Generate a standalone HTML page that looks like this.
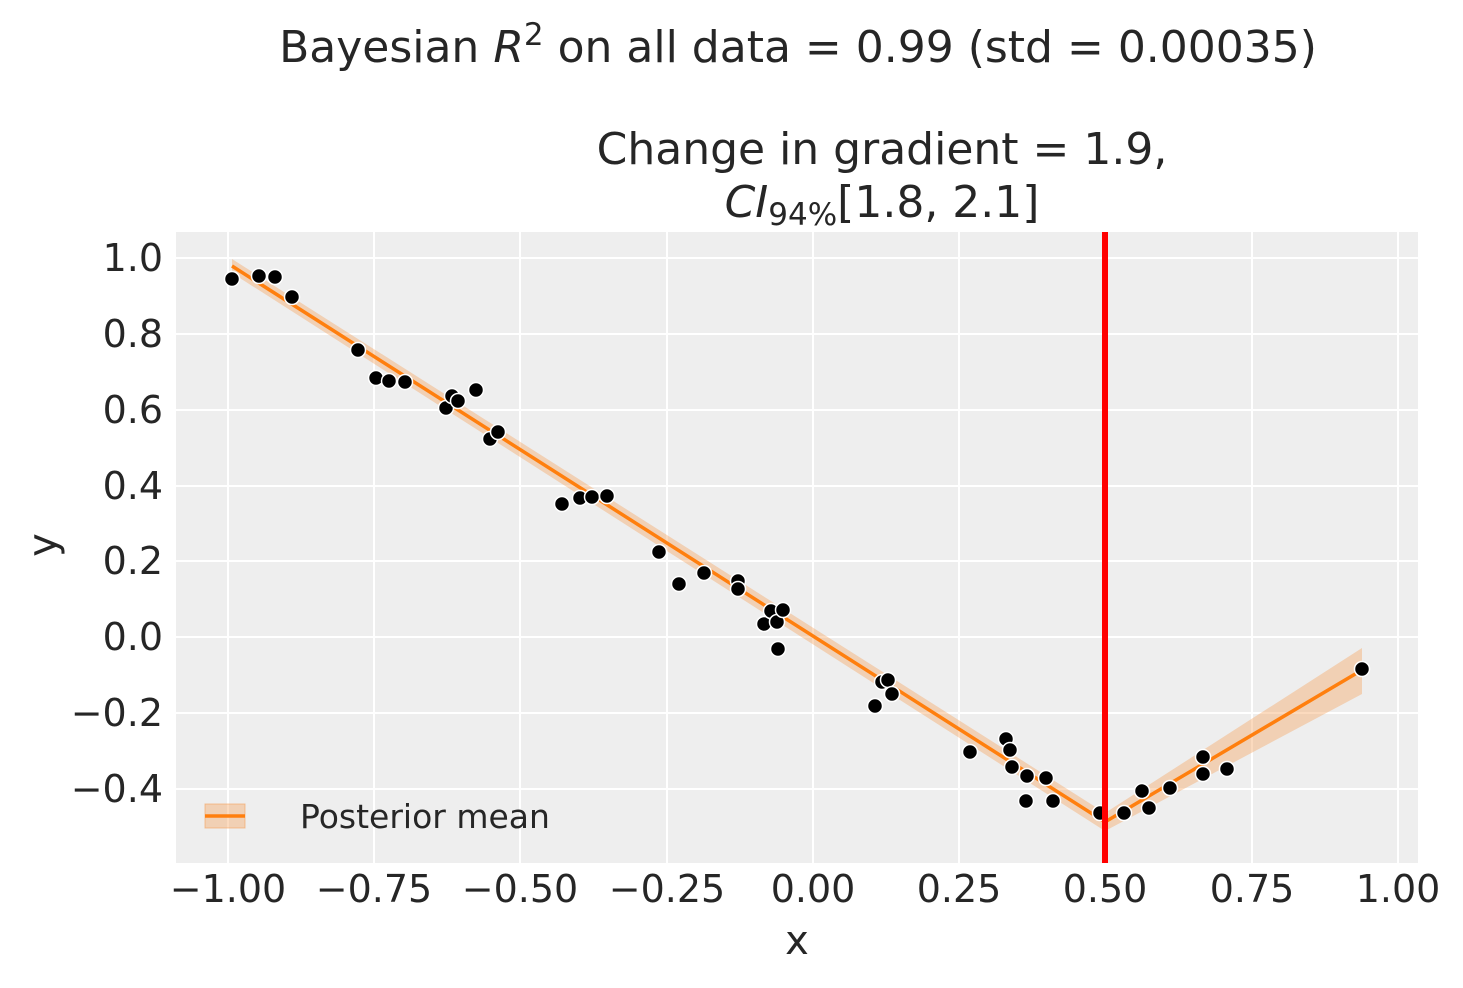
<!DOCTYPE html>
<html><head><meta charset="utf-8"><style>
body{margin:0;background:#fff;}
svg text{font-family:"DejaVu Sans","Liberation Sans",sans-serif;fill:#262626;}
</style></head><body>
<svg width="1463" height="983" xmlns="http://www.w3.org/2000/svg">
<rect x="176" y="232" width="1242" height="631" fill="#eeeeee"/>
<g stroke="#fff" stroke-width="2">
<line x1="228" y1="232" x2="228" y2="863"/><line x1="374" y1="232" x2="374" y2="863"/>
<line x1="520" y1="232" x2="520" y2="863"/><line x1="667" y1="232" x2="667" y2="863"/>
<line x1="813" y1="232" x2="813" y2="863"/><line x1="959" y1="232" x2="959" y2="863"/>
<line x1="1105" y1="232" x2="1105" y2="863"/><line x1="1252" y1="232" x2="1252" y2="863"/>
<line x1="1398" y1="232" x2="1398" y2="863"/>
<line x1="176" y1="258" x2="1418" y2="258"/><line x1="176" y1="334" x2="1418" y2="334"/>
<line x1="176" y1="410" x2="1418" y2="410"/><line x1="176" y1="486" x2="1418" y2="486"/>
<line x1="176" y1="561" x2="1418" y2="561"/><line x1="176" y1="637" x2="1418" y2="637"/>
<line x1="176" y1="713" x2="1418" y2="713"/><line x1="176" y1="789" x2="1418" y2="789"/>
</g>
<polygon points="232,259 1105,813 1362,648 1362,694 1105,831 232,273" fill="#f5a25d" fill-opacity="0.4"/>
<polyline points="232,266 1105,822 1362,670" fill="none" stroke="#ff7f0e" stroke-width="3.5"/>
<g fill="#000" stroke="#fff" stroke-width="1.5">
<circle cx="232" cy="279" r="7.5"/><circle cx="259" cy="276" r="7.5"/><circle cx="275" cy="277" r="7.5"/><circle cx="292" cy="297" r="7.5"/><circle cx="358" cy="350" r="7.5"/><circle cx="376" cy="378" r="7.5"/><circle cx="389" cy="381" r="7.5"/><circle cx="405" cy="382" r="7.5"/><circle cx="446" cy="408" r="7.5"/><circle cx="452" cy="396" r="7.5"/><circle cx="458" cy="401" r="7.5"/><circle cx="476" cy="390" r="7.5"/><circle cx="490" cy="439" r="7.5"/><circle cx="498" cy="432" r="7.5"/><circle cx="562" cy="504" r="7.5"/><circle cx="580" cy="498" r="7.5"/><circle cx="592" cy="497" r="7.5"/><circle cx="607" cy="496" r="7.5"/><circle cx="659" cy="552" r="7.5"/><circle cx="679" cy="584" r="7.5"/><circle cx="704" cy="573" r="7.5"/><circle cx="738" cy="581" r="7.5"/><circle cx="738" cy="589" r="7.5"/><circle cx="764" cy="624" r="7.5"/><circle cx="771" cy="611" r="7.5"/><circle cx="777" cy="622" r="7.5"/><circle cx="783" cy="610" r="7.5"/><circle cx="778" cy="649" r="7.5"/><circle cx="875" cy="706" r="7.5"/><circle cx="882" cy="682" r="7.5"/><circle cx="888" cy="680" r="7.5"/><circle cx="892" cy="694" r="7.5"/><circle cx="970" cy="752" r="7.5"/><circle cx="1006" cy="739" r="7.5"/><circle cx="1010" cy="750" r="7.5"/><circle cx="1012" cy="767" r="7.5"/><circle cx="1026" cy="801" r="7.5"/><circle cx="1027" cy="776" r="7.5"/><circle cx="1046" cy="778" r="7.5"/><circle cx="1053" cy="801" r="7.5"/><circle cx="1100" cy="813" r="7.5"/><circle cx="1124" cy="813" r="7.5"/><circle cx="1142" cy="791" r="7.5"/><circle cx="1149" cy="808" r="7.5"/><circle cx="1170" cy="788" r="7.5"/><circle cx="1203" cy="757" r="7.5"/><circle cx="1203" cy="774" r="7.5"/><circle cx="1227" cy="769" r="7.5"/><circle cx="1362" cy="669" r="7.5"/>
</g>
<line x1="1105" y1="232" x2="1105" y2="863" stroke="#ff0000" stroke-width="6"/>
<rect x="205" y="804" width="40" height="24" fill="#f5a25d" fill-opacity="0.4" stroke="#f5a25d" stroke-opacity="0.6"/>
<line x1="205" y1="816" x2="245" y2="816" stroke="#ff7f0e" stroke-width="3.5"/>
<text x="300" y="828" style="font-size:33px">Posterior mean</text>
<g style="font-size:38px" text-anchor="middle">
<text x="228" y="902">−1.00</text><text x="374" y="902">−0.75</text><text x="520" y="902">−0.50</text>
<text x="667" y="902">−0.25</text><text x="813" y="902">0.00</text><text x="959" y="902">0.25</text>
<text x="1105" y="902">0.50</text><text x="1252" y="902">0.75</text><text x="1398" y="902">1.00</text>
</g>
<g style="font-size:38px" text-anchor="end">
<text x="163" y="271">1.0</text><text x="163" y="347">0.8</text><text x="163" y="423">0.6</text>
<text x="163" y="499">0.4</text><text x="163" y="574">0.2</text><text x="163" y="650">0.0</text>
<text x="163" y="726">−0.2</text><text x="163" y="802">−0.4</text>
</g>
<text x="797" y="954" style="font-size:40px" text-anchor="middle">x</text>
<text transform="translate(56,545) rotate(-90)" style="font-size:40px" text-anchor="middle">y</text>
<text x="798" y="62" style="font-size:44px" text-anchor="middle">Bayesian <tspan font-style="italic">R</tspan><tspan style="font-size:31px" dy="-17">2</tspan><tspan dy="17"> on all data = 0.99 (std = 0.00035)</tspan></text>
<text x="882" y="164" style="font-size:44px" text-anchor="middle">Change in gradient = 1.9,</text>
<text x="882" y="217" style="font-size:44px" text-anchor="middle"><tspan font-style="italic">CI</tspan><tspan style="font-size:31px" dy="8">94%</tspan><tspan dy="-8">[1.8, 2.1]</tspan></text>
</svg>
</body></html>
